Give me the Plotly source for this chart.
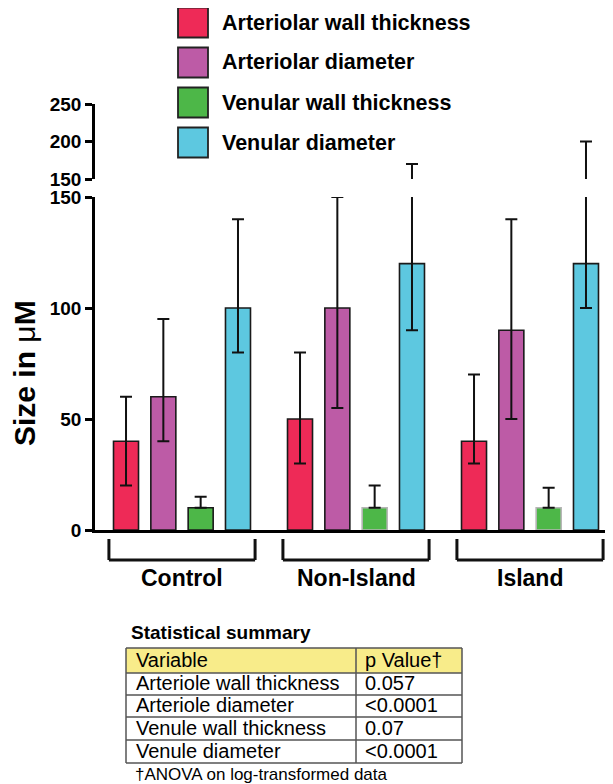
import plotly.graph_objects as go

# ---------------- data ----------------
groups = ["Control", "Non-Island", "Island"]
series_names = ["Arteriolar wall thickness", "Arteriolar diameter",
                "Venular wall thickness", "Venular diameter"]
series_colors = ["#EE2A57", "#BD5BA6", "#4DB748", "#5DC8E0"]

art_wall_mean = [40, 50, 40]
art_wall_lo = [20, 30, 30]
art_wall_hi = [60, 80, 70]

art_diam_mean = [60, 100, 90]
art_diam_lo = [40, 55, 50]
art_diam_hi = [95, 150, 140]

ven_wall_mean = [10, 10, 10]
ven_wall_lo = [10, 10, 10]
ven_wall_hi = [15, 20, 19]

ven_diam_mean = [100, 120, 120]
ven_diam_lo = [80, 90, 100]
ven_diam_hi = [140, 170, 200]

lower_ticks = [0, 50, 100, 150]
upper_ticks = [150, 200, 250]

table_title = "Statistical summary"
table_header = ["Variable", "p Value†"]
table_variables = ["Arteriole wall thickness", "Arteriole diameter",
                   "Venule wall thickness", "Venule diameter"]
table_pvalues = ["0.057", "<0.0001", "0.07", "<0.0001"]
table_note = "†ANOVA on log-transformed data"

# ---------------- geometry helpers (window pixels -> paper) ----------------
OFF = 8            # page body margin
W, H = 613 - OFF, 784 - OFF
ML = 95 - OFF


def px_x(p):
    return (p - OFF - ML) / (W - ML)


def px_y(p):
    return 1 - (p - OFF) / H


FONT = "Arial, Liberation Sans, Helvetica, sans-serif"

means = [art_wall_mean, art_diam_mean, ven_wall_mean, ven_diam_mean]
los = [art_wall_lo, art_diam_lo, ven_wall_lo, ven_diam_lo]
his = [art_wall_hi, art_diam_hi, ven_wall_hi, ven_diam_hi]

BREAK = lower_ticks[-1]

fig = go.Figure()

for k in range(4):
    outline = ["#1a1a1a"] * 3
    if k == 2:
        outline = ["#1a1a1a", "#b5b5b5", "#b5b5b5"]
    fig.add_trace(go.Bar(
        x=groups, y=means[k], name=series_names[k], showlegend=False,
        marker=dict(color=series_colors[k], line=dict(color=outline, width=1.6)),
        error_y=dict(type="data", symmetric=False,
                     array=[h - m for h, m in zip(his[k], means[k])],
                     arrayminus=[m - l for m, l in zip(means[k], los[k])],
                     color="#111111", thickness=2, width=6),
        xaxis="x", yaxis="y",
    ))
for k in range(4):
    # upper (broken-axis) panel: only the whisker parts above the break show
    ys = [m if h > BREAK else None for m, h in zip(means[k], his[k])]
    fig.add_trace(go.Bar(
        x=groups, y=ys, showlegend=False,
        marker=dict(color=series_colors[k], line=dict(color="#1a1a1a", width=1.6)),
        error_y=dict(type="data", symmetric=False,
                     array=[h - m for h, m in zip(his[k], means[k])],
                     arrayminus=[m - l for m, l in zip(means[k], los[k])],
                     color="#111111", thickness=2, width=6),
        xaxis="x2", yaxis="y2", hoverinfo="skip",
    ))

axis_common = dict(showline=True, linewidth=2.5, linecolor="black",
                   ticks="outside", ticklen=7, tickwidth=2.5, tickcolor="black",
                   showgrid=False, zeroline=False, automargin=False,
                   tickfont=dict(family=FONT, size=19, color="black", weight="bold"))

fig.update_layout(
    width=W, height=H,
    margin=dict(l=ML, r=0, t=0, b=0, autoexpand=False),
    paper_bgcolor="white", plot_bgcolor="white",
    barmode="group", bargap=0.142, bargroupgap=0.33,
    showlegend=False,
    xaxis=dict(domain=[0, 1], range=[-0.5, 2.477], showline=True, linewidth=2.5,
               linecolor="black", ticks="", showticklabels=False, showgrid=False,
               zeroline=False, anchor="y", automargin=False),
    xaxis2=dict(domain=[0, 1], matches="x", anchor="y2", visible=False, automargin=False),
    yaxis=dict(domain=[px_y(530), px_y(197)], range=[0, BREAK],
               tickvals=lower_ticks, anchor="x", **axis_common),
    yaxis2=dict(domain=[px_y(179), px_y(104)], range=[upper_ticks[0], upper_ticks[-1]],
                tickvals=upper_ticks, anchor="x2", **axis_common),
)

# y axis title
fig.add_annotation(
    text="Size in <span style='font-weight:normal'>μ</span>M",
    xref="paper", yref="paper", x=px_x(24), y=px_y(373),
    textangle=-90, showarrow=False, xanchor="center", yanchor="middle",
    font=dict(family=FONT, size=30, color="black", weight="bold"),
)

shapes = []
# group brackets and labels
for i, g in enumerate(groups):
    x0, x1 = i - 0.42, i + 0.42
    ytop, ybot = px_y(539), px_y(560)
    line = dict(color="#111111", width=3)
    shapes.append(dict(type="line", xref="x", yref="paper", x0=x0, x1=x0, y0=ytop, y1=ybot, line=line))
    shapes.append(dict(type="line", xref="x", yref="paper", x0=x1, x1=x1, y0=ytop, y1=ybot, line=line))
    shapes.append(dict(type="line", xref="x", yref="paper", x0=x0, x1=x1, y0=ybot, y1=ybot, line=line))
    fig.add_annotation(text=g, xref="x", yref="paper", x=i, y=px_y(578),
                       showarrow=False, xanchor="center", yanchor="middle",
                       font=dict(family=FONT, size=23, color="black", weight="bold"))

# legend (drawn by hand for the large swatches)
for k, name in enumerate(series_names):
    cy = 22.5 + 40 * k
    shapes.append(dict(type="rect", xref="paper", yref="paper",
                       x0=px_x(178), x1=px_x(208), y0=px_y(cy - 15), y1=px_y(cy + 15),
                       fillcolor=series_colors[k], line=dict(color="#222222", width=1.8)))
    fig.add_annotation(text=name, xref="paper", yref="paper", x=px_x(220), y=px_y(cy),
                       showarrow=False, xanchor="left", yanchor="middle",
                       font=dict(family=FONT, size=21.5, color="black", weight="bold"))

# statistical summary table
fig.add_annotation(text=table_title, xref="paper", yref="paper",
                   x=px_x(129), y=px_y(632), showarrow=False, xanchor="left",
                   yanchor="middle",
                   font=dict(family=FONT, size=19, color="black", weight="bold"))

row_lines = [648, 673, 695, 717, 740, 763]
tx0, tdiv, tx1 = 126, 356, 462
tline = dict(color="#555555", width=1.5)
shapes.append(dict(type="rect", xref="paper", yref="paper", layer="below",
                   x0=px_x(tx0), x1=px_x(tx1), y0=px_y(row_lines[0]), y1=px_y(row_lines[1]),
                   fillcolor="#F8EC8A", line=dict(width=0)))
for ry in row_lines:
    shapes.append(dict(type="line", xref="paper", yref="paper",
                       x0=px_x(tx0), x1=px_x(tx1), y0=px_y(ry), y1=px_y(ry), line=tline))
for cx in (tx0, tdiv, tx1):
    shapes.append(dict(type="line", xref="paper", yref="paper",
                       x0=px_x(cx), x1=px_x(cx), y0=px_y(row_lines[0]), y1=px_y(row_lines[-1]),
                       line=tline))

rows = [table_header] + [[v, p] for v, p in zip(table_variables, table_pvalues)]
for r, (c1, c2) in enumerate(rows):
    cy = (row_lines[r] + row_lines[r + 1]) / 2 - 1
    for txt, cx in ((c1, tx0 + 8), (c2, tdiv + 7)):
        fig.add_annotation(text=txt, xref="paper", yref="paper", x=px_x(cx), y=px_y(cy),
                           showarrow=False, xanchor="left", yanchor="middle",
                           font=dict(family=FONT, size=20, color="black"))

fig.add_annotation(text=table_note, xref="paper", yref="paper",
                   x=px_x(133), y=px_y(774), showarrow=False, xanchor="left",
                   yanchor="middle",
                   font=dict(family=FONT, size=17, color="black"))

fig.update_layout(shapes=shapes)

fig.write_html("out.html")
